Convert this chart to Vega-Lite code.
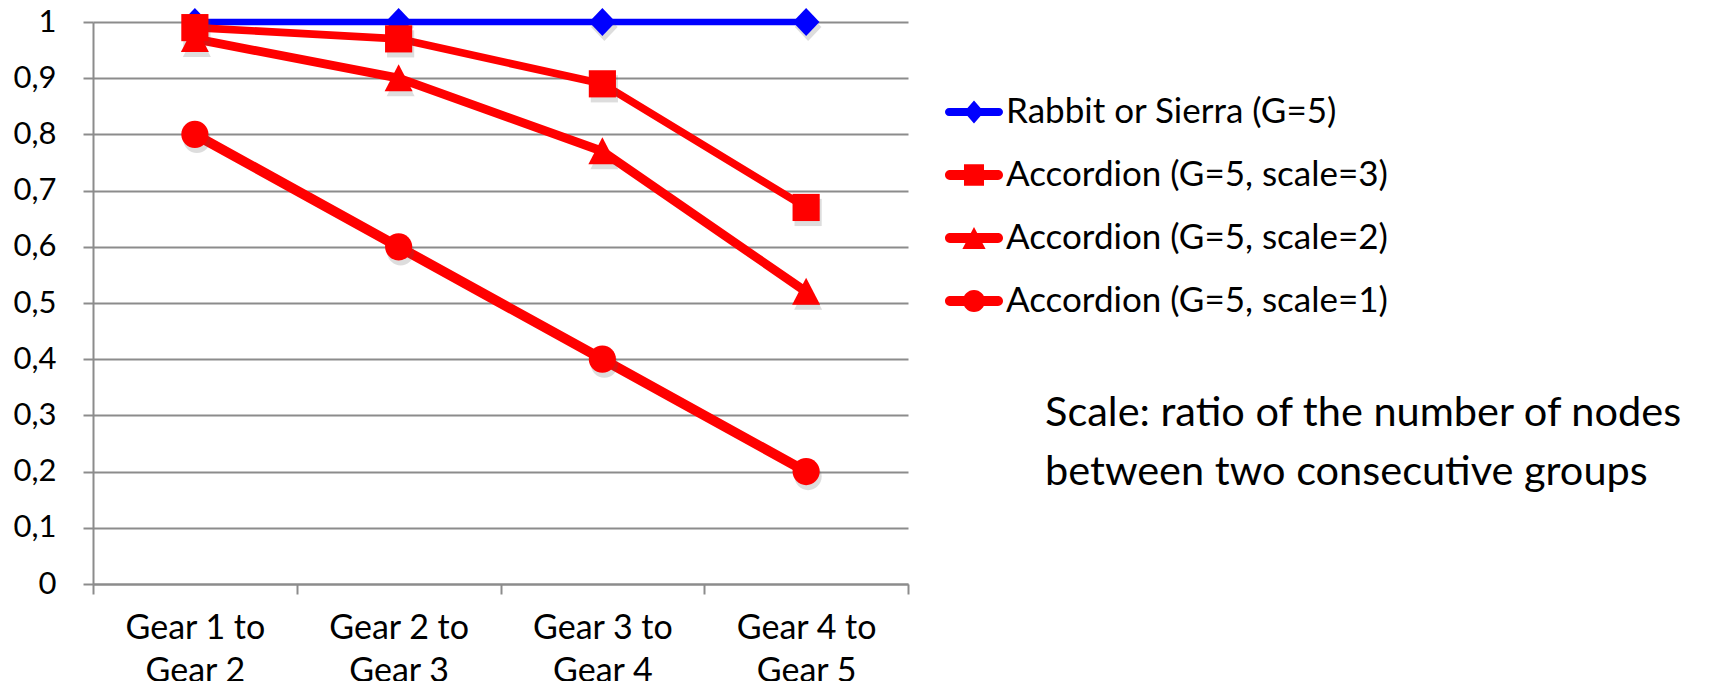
{
  "$schema": "https://vega.github.io/schema/vega-lite/v6.json",
  "width": 815,
  "height": 562,
  "autosize": {"type": "none"},
  "padding": {"left": 93, "top": 22, "right": 827, "bottom": 97},
  "background": "white",
  "config": {
    "font": "Lato",
    "view": {"stroke": null},
    "axis": {"labelFont": "Lato", "labelColor": "#000000"}
  },
  "title": {
    "text": ["Scale: ratio of the number of nodes", "between two consecutive groups"],
    "orient": "top",
    "anchor": "start",
    "frame": "group",
    "align": "left",
    "baseline": "alphabetic",
    "offset": 0,
    "dx": 952,
    "dy": 520,
    "font": "Lato",
    "fontSize": 41.5,
    "fontWeight": "normal",
    "color": "#000000",
    "lineHeight": 59
  },
  "data": {
    "values": [
      {"gear": "Gear 1 to Gear 2", "series": "Rabbit or Sierra (G=5)", "value": 1},
      {"gear": "Gear 2 to Gear 3", "series": "Rabbit or Sierra (G=5)", "value": 1},
      {"gear": "Gear 3 to Gear 4", "series": "Rabbit or Sierra (G=5)", "value": 1},
      {"gear": "Gear 4 to Gear 5", "series": "Rabbit or Sierra (G=5)", "value": 1},
      {"gear": "Gear 1 to Gear 2", "series": "Accordion (G=5, scale=3)", "value": 0.99},
      {"gear": "Gear 2 to Gear 3", "series": "Accordion (G=5, scale=3)", "value": 0.97},
      {"gear": "Gear 3 to Gear 4", "series": "Accordion (G=5, scale=3)", "value": 0.89},
      {"gear": "Gear 4 to Gear 5", "series": "Accordion (G=5, scale=3)", "value": 0.67},
      {"gear": "Gear 1 to Gear 2", "series": "Accordion (G=5, scale=2)", "value": 0.97},
      {"gear": "Gear 2 to Gear 3", "series": "Accordion (G=5, scale=2)", "value": 0.9},
      {"gear": "Gear 3 to Gear 4", "series": "Accordion (G=5, scale=2)", "value": 0.77},
      {"gear": "Gear 4 to Gear 5", "series": "Accordion (G=5, scale=2)", "value": 0.52},
      {"gear": "Gear 1 to Gear 2", "series": "Accordion (G=5, scale=1)", "value": 0.8},
      {"gear": "Gear 2 to Gear 3", "series": "Accordion (G=5, scale=1)", "value": 0.6},
      {"gear": "Gear 3 to Gear 4", "series": "Accordion (G=5, scale=1)", "value": 0.4},
      {"gear": "Gear 4 to Gear 5", "series": "Accordion (G=5, scale=1)", "value": 0.2}
    ]
  },
  "encoding": {
    "x": {
      "field": "gear",
      "type": "nominal",
      "sort": null,
      "scale": {"paddingInner": 0, "paddingOuter": 0},
      "axis": {
        "title": null,
        "labelAngle": 0,
        "labelFontSize": 34,
        "labelLineHeight": 43,
        "labelPadding": 17,
        "labelExpr": "[slice(datum.label, 0, 9), slice(datum.label, 10)]",
        "tickBand": "extent",
        "tickSize": 10,
        "tickColor": "#8c8c8c",
        "tickWidth": 2,
        "domainColor": "#8c8c8c",
        "domainWidth": 2,
        "grid": false
      }
    },
    "y": {
      "field": "value",
      "type": "quantitative",
      "scale": {"domain": [0, 1], "nice": false},
      "axis": {
        "title": null,
        "values": [0, 0.1, 0.2, 0.3, 0.4, 0.5, 0.6, 0.7, 0.8, 0.9, 1],
        "labelExpr": "replace(format(datum.value, '.1~f'), '.', ',')",
        "labelFontSize": 31,
        "labelPadding": 27,
        "tickSize": 10,
        "tickColor": "#8c8c8c",
        "tickWidth": 2,
        "domainColor": "#8c8c8c",
        "domainWidth": 2,
        "grid": true,
        "gridColor": "#8c8c8c",
        "gridWidth": 2
      }
    }
  },
  "layer": [
    {
      "mark": {"type": "line", "strokeCap": "round", "strokeJoin": "round"},
      "encoding": {
        "color": {
          "field": "series",
          "type": "nominal",
          "scale": {
            "domain": ["Rabbit or Sierra (G=5)", "Accordion (G=5, scale=3)", "Accordion (G=5, scale=2)", "Accordion (G=5, scale=1)"],
            "range": ["#0000ff", "#ff0000", "#ff0000", "#ff0000"]
          },
          "legend": null
        },
        "strokeWidth": {
          "field": "series",
          "type": "nominal",
          "scale": {
            "domain": ["Rabbit or Sierra (G=5)", "Accordion (G=5, scale=3)", "Accordion (G=5, scale=2)", "Accordion (G=5, scale=1)"],
            "range": [6.5, 10, 10, 10]
          },
          "legend": null
        }
      }
    },
    {
      "mark": {"type": "point", "filled": true, "size": 784, "color": "#555555", "opacity": 0.2, "xOffset": 2, "yOffset": 5},
      "encoding": {
        "shape": {
          "field": "series",
          "type": "nominal",
          "scale": {
            "domain": ["Rabbit or Sierra (G=5)", "Accordion (G=5, scale=3)", "Accordion (G=5, scale=2)", "Accordion (G=5, scale=1)"],
            "range": [
              "M0,-1L0.95,0L0,1L-0.95,0Z",
              "M-0.97,-0.97H0.97V0.97H-0.97Z",
              "M0,-1L1,0.93L-1,0.93Z",
              "M-0.97,0A0.97,0.97 0 1 1 0.97,0A0.97,0.97 0 1 1 -0.97,0Z"
            ]
          },
          "legend": null
        }
      }
    },
    {
      "mark": {"type": "point", "filled": true, "size": 784, "opacity": 1},
      "encoding": {
        "color": {
          "field": "series",
          "type": "nominal",
          "scale": {
            "domain": ["Rabbit or Sierra (G=5)", "Accordion (G=5, scale=3)", "Accordion (G=5, scale=2)", "Accordion (G=5, scale=1)"],
            "range": ["#0000ff", "#ff0000", "#ff0000", "#ff0000"]
          },
          "legend": null
        },
        "shape": {
          "field": "series",
          "type": "nominal",
          "scale": {
            "domain": ["Rabbit or Sierra (G=5)", "Accordion (G=5, scale=3)", "Accordion (G=5, scale=2)", "Accordion (G=5, scale=1)"],
            "range": [
              "M0,-1L0.95,0L0,1L-0.95,0Z",
              "M-0.97,-0.97H0.97V0.97H-0.97Z",
              "M0,-1L1,0.93L-1,0.93Z",
              "M-0.97,0A0.97,0.97 0 1 1 0.97,0A0.97,0.97 0 1 1 -0.97,0Z"
            ]
          },
          "legend": null
        }
      }
    },
    {
      "mark": {"type": "point", "filled": true, "size": 784, "opacity": 0},
      "encoding": {
        "color": {
          "field": "series",
          "type": "nominal",
          "scale": {
            "domain": ["Rabbit or Sierra (G=5)", "Accordion (G=5, scale=3)", "Accordion (G=5, scale=2)", "Accordion (G=5, scale=1)"],
            "range": ["#0000ff", "#ff0000", "#ff0000", "#ff0000"]
          },
          "legend": {
            "title": null,
            "orient": "none",
            "legendX": 852,
            "legendY": 61,
            "symbolSize": 3364,
            "symbolOpacity": 1,
            "symbolStrokeWidth": 0,
            "labelFont": "Lato",
            "labelFontSize": 35,
            "labelColor": "#000000",
            "labelOffset": 3,
            "labelLimit": 700,
            "rowPadding": 16,
            "padding": 0
          }
        },
        "shape": {
          "field": "series",
          "type": "nominal",
          "scale": {
            "domain": ["Rabbit or Sierra (G=5)", "Accordion (G=5, scale=3)", "Accordion (G=5, scale=2)", "Accordion (G=5, scale=1)"],
            "range": [
              "M-0.86,-0.14H0.86A0.14,0.14 0 0 1 0.86,0.14H-0.86A0.14,0.14 0 0 1 -0.86,-0.14ZM0,-0.4L0.345,0L0,0.4L-0.345,0Z",
              "M-0.83,-0.17H0.83A0.17,0.17 0 0 1 0.83,0.17H-0.83A0.17,0.17 0 0 1 -0.83,-0.17ZM-0.345,-0.37H0.345V0.37H-0.345Z",
              "M-0.83,-0.17H0.83A0.17,0.17 0 0 1 0.83,0.17H-0.83A0.17,0.17 0 0 1 -0.83,-0.17ZM0,-0.38L0.4,0.38L-0.4,0.38Z",
              "M-0.83,-0.17H0.83A0.17,0.17 0 0 1 0.83,0.17H-0.83A0.17,0.17 0 0 1 -0.83,-0.17ZM-0.38,0A0.38,0.38 0 1 1 0.38,0A0.38,0.38 0 1 1 -0.38,0Z"
            ]
          },
          "legend": {
            "title": null,
            "orient": "none",
            "legendX": 852,
            "legendY": 61,
            "symbolSize": 3364,
            "symbolOpacity": 1,
            "symbolStrokeWidth": 0,
            "labelFont": "Lato",
            "labelFontSize": 35,
            "labelColor": "#000000",
            "labelOffset": 3,
            "labelLimit": 700,
            "rowPadding": 16,
            "padding": 0
          }
        }
      }
    }
  ],
  "resolve": {
    "scale": {"shape": "independent", "color": "independent", "strokeWidth": "independent"},
    "legend": {"shape": "independent", "color": "independent"}
  }
}
